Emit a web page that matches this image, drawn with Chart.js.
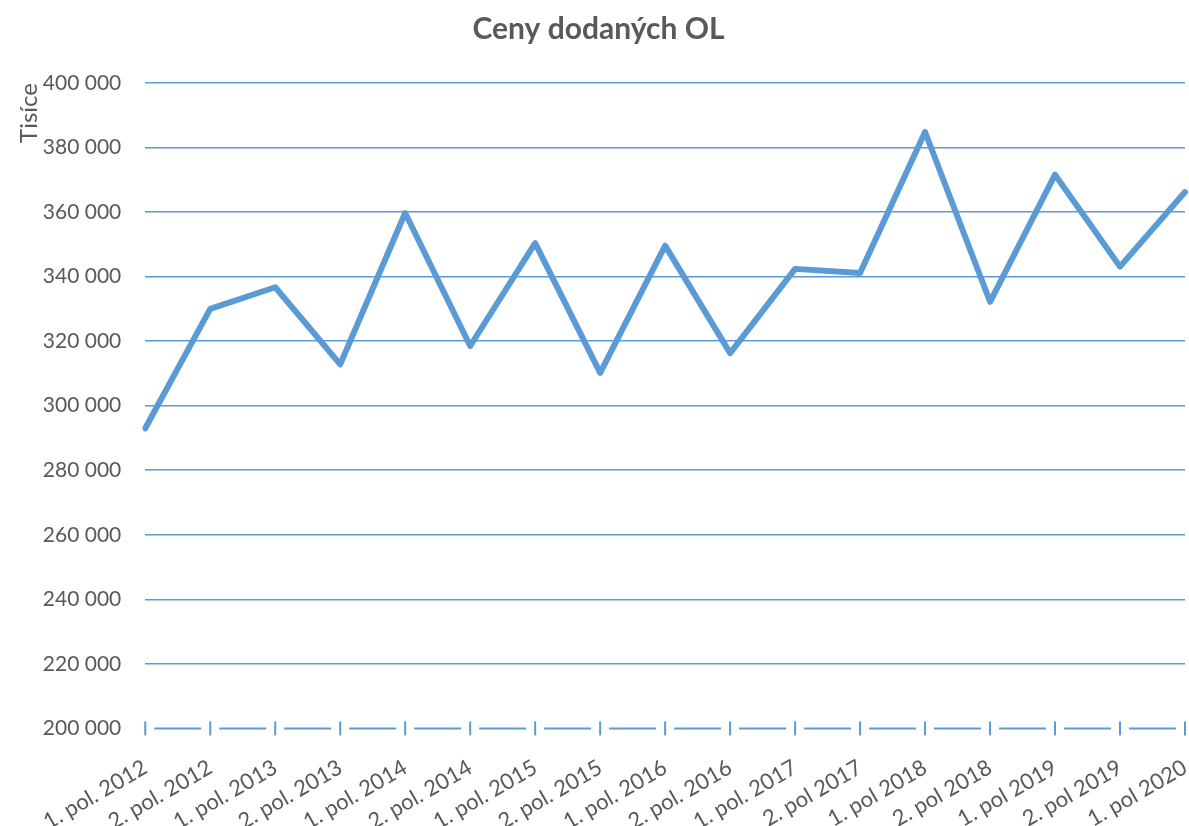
<!DOCTYPE html>
<html>
<head>
<meta charset="utf-8">
<script src="https://cdn.jsdelivr.net/npm/chart.js@4/dist/chart.umd.min.js"></script>
<style>
    html, body { margin: 0; padding: 0; background: #fff; }
    #wrap { width: 1189px; height: 826px; }
</style>
</head>
<body>
<div id="wrap"><canvas id="cenyCanvas"></canvas></div>
<script>
// data
const periods = ['1. pol. 2012', '2. pol. 2012', '1. pol. 2013', '2. pol. 2013', '1. pol. 2014', '2. pol. 2014',
    '1. pol. 2015', '2. pol. 2015', '1. pol. 2016', '2. pol. 2016', '1. pol. 2017', '2. pol 2017',
    '1. pol 2018', '2. pol 2018', '1. pol 2019', '2. pol 2019', '1. pol 2020'];
const ceny = [293000, 330000, 336700, 312800, 359700, 318500, 350400, 310200, 349600, 316300,
    342400, 341100, 384800, 332200, 371600, 343100, 366200];
const yMin = 200000;
const yMax = 400000;
const yStep = 20000;

const modra = '#5B9BD5';
const seda = '#595959';

// bottom axis: short ticks crossing the line and a broken line between them
const axisTicks = {
    id: 'axisTicks',
    afterDatasetsDraw(chart) {
        const x = chart.scales.x;
        const y = chart.chartArea.bottom;
        const ctx = chart.ctx;
        ctx.save();
        ctx.strokeStyle = modra;
        ctx.lineWidth = 2;
        for (let i = 0; i < x.ticks.length; i++) {
            const px = x.getPixelForTick(i);
            ctx.beginPath();
            ctx.moveTo(px, y - 7);
            ctx.lineTo(px, y + 7);
            ctx.stroke();
            if (i < x.ticks.length - 1) {
                const next = x.getPixelForTick(i + 1);
                ctx.beginPath();
                ctx.moveTo(px + 9, y);
                ctx.lineTo(next - 9, y);
                ctx.stroke();
            }
        }
        ctx.restore();
    }
};

function formatNum(v) {
    return String(v).replace(/\B(?=(\d{3})+(?!\d))/g, ' ');
}

new Chart(document.getElementById('cenyCanvas'), {
    type: 'line',
    data: {
        labels: periods,
        datasets: [{
            label: 'Ceny dodaných OL',
            data: ceny,
            borderColor: modra,
            backgroundColor: modra,
            borderWidth: 6,
            pointRadius: 0,
            borderJoinStyle: 'round',
            borderCapStyle: 'round',
            tension: 0
        }]
    },
    options: {
        responsive: true,
        maintainAspectRatio: false,
        animation: false,
        layout: { padding: { top: 8, right: 4, left: 12, bottom: -27 } },
        plugins: {
            legend: { display: false },
            tooltip: { enabled: false },
            title: {
                display: true,
                text: 'Ceny dodaných OL',
                color: seda,
                font: { family: 'Lato', size: 30, weight: 'bold' },
                padding: { top: 3, bottom: 36 }
            }
        },
        scales: {
            x: {
                grid: { display: false },
                border: { display: false },
                // rotated labels may hang out on the left, like in the original
                afterFit: scale => {
                    scale.paddingLeft = 0;
                    scale.paddingRight = 0;
                },
                ticks: {
                    color: seda,
                    font: { family: 'Lato', size: 22 },
                    minRotation: 30,
                    maxRotation: 30,
                    padding: 18,
                    autoSkip: false
                }
            },
            y: {
                min: yMin,
                max: yMax,
                border: { display: false },
                grid: {
                    color: ctx => ctx.tick && ctx.tick.value === yMin ? 'rgba(0,0,0,0)' : modra,
                    lineWidth: 1.5,
                    drawTicks: false
                },
                ticks: {
                    stepSize: yStep,
                    color: seda,
                    font: { family: 'Lato', size: 21 },
                    padding: 24,
                    callback: v => formatNum(v)
                },
                title: {
                    display: true,
                    text: 'Tisíce',
                    align: 'end',
                    color: seda,
                    font: { family: 'Lato', size: 24 },
                    padding: { top: 3, bottom: -25 }
                }
            }
        }
    },
    plugins: [axisTicks]
});
</script>
</body>
</html>
